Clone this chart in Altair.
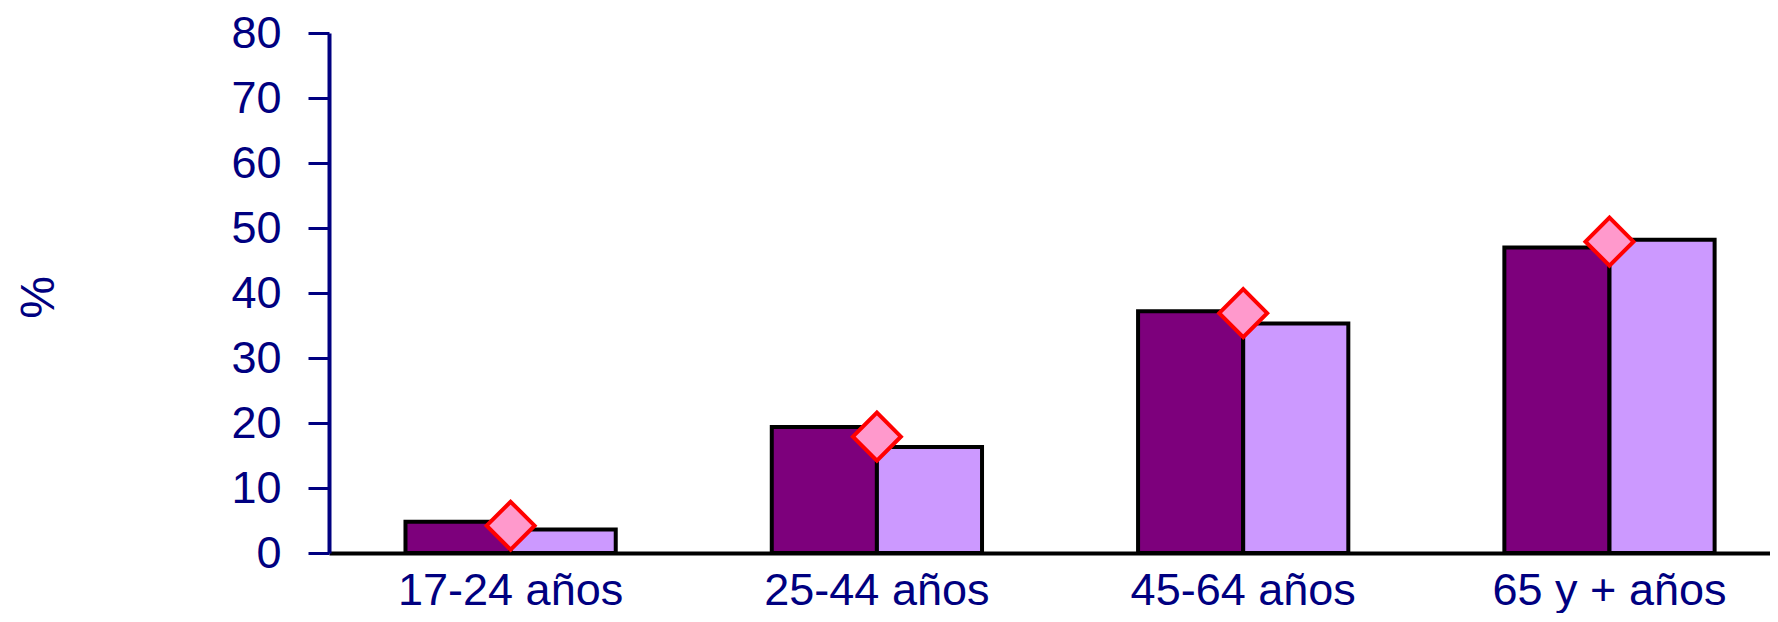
import altair as alt
import pandas as pd

categorias = ["17-24 años", "25-44 años", "45-64 años", "65 y + años"]
series = ["Serie 1", "Serie 2"]
serie_1 = [4.8, 19.4, 37.2, 47.0]
serie_2 = [3.6, 16.3, 35.3, 48.2]
serie_marcador = [4.2, 17.9, 36.9, 47.9]
y_ticks = [0, 10, 20, 30, 40, 50, 60, 70, 80]

bars_df = pd.DataFrame({
    "grupo": categorias * 2,
    "serie": [series[0]] * len(categorias) + [series[1]] * len(categorias),
    "valor": serie_1 + serie_2,
})
pts_df = pd.DataFrame({"grupo": categorias, "valor": serie_marcador})

FONT = "Liberation Sans"
NAVY = "#000080"

xscale = alt.Scale(domain=categorias, paddingInner=0.426, paddingOuter=0.18, align=0.58)
yscale = alt.Scale(domain=[0, 80], nice=False, zero=True)

x_axis = alt.Axis(
    title=None, labelAngle=0, ticks=False, grid=False,
    domainColor="black", domainWidth=4,
    labelFont=FONT, labelFontSize=45, labelColor=NAVY, labelPadding=15,
    labelLimit=0,
)
y_axis = alt.Axis(
    values=y_ticks, grid=False, title="%",
    domainColor=NAVY, domainWidth=4,
    tickColor=NAVY, tickWidth=3, tickSize=21,
    labelFont=FONT, labelFontSize=45, labelColor=NAVY, labelPadding=27,
    labelFlush=False, labelOverlap=False,
    titleFont=FONT, titleFontSize=48, titleColor=NAVY, titleFontWeight="normal",
    titleAngle=270, titleX=-290, titleY=264, titleAlign="center", titleBaseline="middle",
)

bars = alt.Chart(bars_df).mark_bar(stroke="black", strokeWidth=4, opacity=1).encode(
    x=alt.X("grupo:N", scale=xscale, axis=x_axis, sort=categorias),
    xOffset=alt.XOffset("serie:N", scale=alt.Scale(domain=series, paddingInner=0, paddingOuter=0)),
    y=alt.Y("valor:Q", scale=yscale, axis=y_axis),
    color=alt.Color("serie:N", scale=alt.Scale(domain=series, range=["#7D007C", "#CC99FF"]), legend=None),
)

points = alt.Chart(pts_df).mark_point(
    shape="diamond", fill="#FF99CC", stroke="#FF0000", strokeWidth=4,
    size=2300, fillOpacity=1, opacity=1,
).encode(
    x=alt.X("grupo:N", scale=xscale, sort=categorias),
    y=alt.Y("valor:Q", scale=yscale),
)

chart = alt.layer(bars, points).properties(
    width=1441, height=520,
    autosize=alt.AutoSizeParams(type="none"),
    padding={"left": 321, "top": 25, "right": 0, "bottom": 60},
).configure_view(stroke=None)

chart.save("out.html", embed_options={"renderer": "svg", "actions": False})
